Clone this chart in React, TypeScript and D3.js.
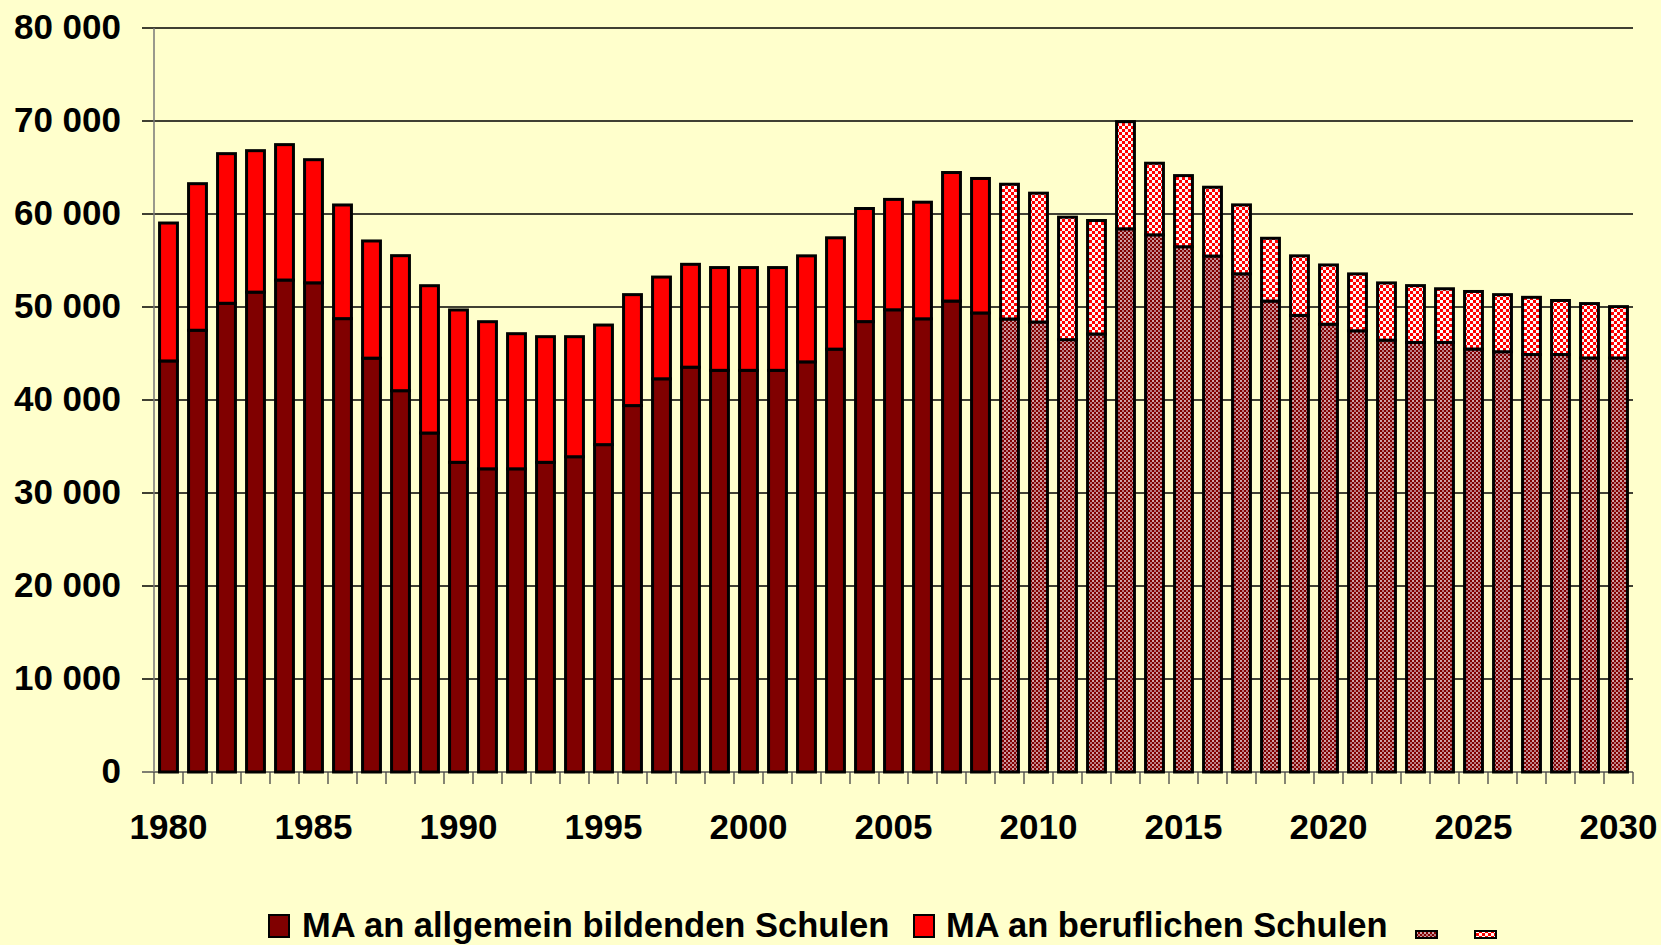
import React from 'react';
import * as d3 from 'd3';

const years = [
  1980, 1981, 1982, 1983, 1984, 1985, 1986, 1987, 1988, 1989,
  1990, 1991, 1992, 1993, 1994, 1995, 1996, 1997, 1998, 1999,
  2000, 2001, 2002, 2003, 2004, 2005, 2006, 2007, 2008, 2009,
  2010, 2011, 2012, 2013, 2014, 2015, 2016, 2017, 2018, 2019,
  2020, 2021, 2022, 2023, 2024, 2025, 2026, 2027, 2028, 2029, 2030
];

// MA an allgemein bildenden Schulen
const allgemein = [
  44200, 47500, 50400, 51600, 52900, 52600, 48750, 44500, 41000, 36450,
  33300, 32600, 32600, 33300, 33900, 35200, 39400, 42280, 43530, 43190,
  43190, 43190, 44100, 45470, 48430, 49700, 48730, 50640, 49360, 48710,
  48390, 46490, 47100, 58410, 57760, 56480, 55480, 53570, 50640, 49100,
  48150, 47440, 46440, 46190, 46190, 45480, 45190, 44890, 44890, 44520, 44520
];

// MA an beruflichen Schulen
const beruflich = [
  14830, 15760, 16090, 15210, 14560, 13240, 12220, 12600, 14520, 15840,
  16380, 15820, 14530, 13510, 12910, 12860, 11930, 10940, 11060, 11050,
  11050, 11050, 11400, 11970, 12160, 11870, 12540, 13820, 14460, 14490,
  13850, 13170, 12200, 11520, 7700, 7650, 7400, 7410, 6750, 6400,
  6370, 6120, 6150, 6110, 5770, 6190, 6140, 6150, 5810, 5850, 5520
];

const firstForecastYear = 2009;
const yTicks = [0, 10000, 20000, 30000, 40000, 50000, 60000, 70000, 80000];
const xLabels = [1980, 1985, 1990, 1995, 2000, 2005, 2010, 2015, 2020, 2025, 2030];
const legendLabels = ['MA an allgemein bildenden Schulen', 'MA an beruflichen Schulen'];

const W = 1661;
const H = 945;
const font = '"Liberation Sans", Arial, sans-serif';

const fmt = d3.formatLocale({ decimal: ',', thousands: ' ', grouping: [3], currency: ['', '€'] }).format(',');

export default function App() {
  const x = d3.scaleBand<number>()
    .domain(years)
    .range([154, 1633])
    .paddingInner(0.28)
    .paddingOuter(0.14);

  const y = d3.scaleLinear().domain([0, 80000]).range([772, 28]);

  const rows = years.map((yr, i) => ({ year: yr, allgemein: allgemein[i], beruflich: beruflich[i] }));
  const stacked = d3.stack<any>().keys(['allgemein', 'beruflich'])(rows);

  const fills: Record<string, [string, string]> = {
    allgemein: ['#800000', 'url(#patDark)'],
    beruflich: ['#ff0000', 'url(#patRed)']
  };

  const bw = x.bandwidth();
  const step = x.step();
  const x0 = x.range()[0];
  const x1 = x.range()[1];

  return (
    <svg width={W} height={H} style={{ position: 'absolute', left: 0, top: 0 }}>
      <defs>
        <pattern id="patRed" width="6" height="6" patternUnits="userSpaceOnUse">
          <rect width="6" height="6" fill="#ff0000" />
          <rect x="0" y="0" width="3" height="3" fill="#ffffff" />
          <rect x="3" y="3" width="3" height="3" fill="#fff0f0" />
        </pattern>
        <pattern id="patDark" width="4" height="4" patternUnits="userSpaceOnUse">
          <rect width="4" height="4" fill="#800000" />
          <rect x="0" y="0" width="2" height="2" fill="#d0a0a6" />
          <rect x="2" y="2" width="2" height="2" fill="#b87880" />
        </pattern>
      </defs>
      <rect width={W} height={H} fill="#ffffcc" />

      {/* gridlines + y ticks */}
      {yTicks.map(t => (
        <g key={t}>
          <line x1={142} x2={x1} y1={y(t)} y2={y(t)} stroke={t === 0 ? '#555' : '#000'} strokeWidth={1.3} />
          <text x={121} y={y(t) + 11} textAnchor="end" fontFamily={font} fontWeight="bold" fontSize={35} fill="#000">
            {fmt(t)}
          </text>
        </g>
      ))}

      {/* x ticks */}
      {d3.range(years.length + 1).map(i => (
        <line key={i} x1={x0 + i * step} x2={x0 + i * step} y1={y(0)} y2={y(0) + 12} stroke="#444" strokeWidth={1.3} />
      ))}

      {/* y axis line */}
      <line x1={x0} x2={x0} y1={y(80000)} y2={y(0)} stroke="#777" strokeWidth={1.5} />

      {/* bars */}
      {stacked.map(s => (
        <g key={s.key}>
          {s.map((d, i) => {
            const forecast = years[i] >= firstForecastYear;
            return (
              <rect
                key={years[i]}
                x={(x(years[i]) as number) + 1.5}
                y={y(d[1])}
                width={bw - 3}
                height={y(d[0]) - y(d[1])}
                fill={fills[s.key][forecast ? 1 : 0]}
                stroke="#000"
                strokeWidth={3}
              />
            );
          })}
        </g>
      ))}

      {/* x labels */}
      {xLabels.map(yr => (
        <text key={yr} x={(x(yr) as number) + bw / 2} y={839} textAnchor="middle" fontFamily={font} fontWeight="bold" fontSize={35} fill="#000">
          {yr}
        </text>
      ))}

      {/* legend */}
      <rect x={269} y={915} width={20} height={22} fill="#800000" stroke="#000" strokeWidth={2} />
      <text x={302} y={937} fontFamily={font} fontWeight="bold" fontSize={34.5} fill="#000">{legendLabels[0]}</text>
      <rect x={914} y={915} width={20} height={22} fill="#ff0000" stroke="#000" strokeWidth={2} />
      <text x={946} y={937} fontFamily={font} fontWeight="bold" fontSize={34.5} fill="#000">{legendLabels[1]}</text>
      <rect x={1416} y={931} width={21} height={7} fill="url(#patDark)" stroke="#000" strokeWidth={2} />
      <rect x={1475} y={931} width={21} height={7} fill="url(#patRed)" stroke="#000" strokeWidth={2} />
    </svg>
  );
}
